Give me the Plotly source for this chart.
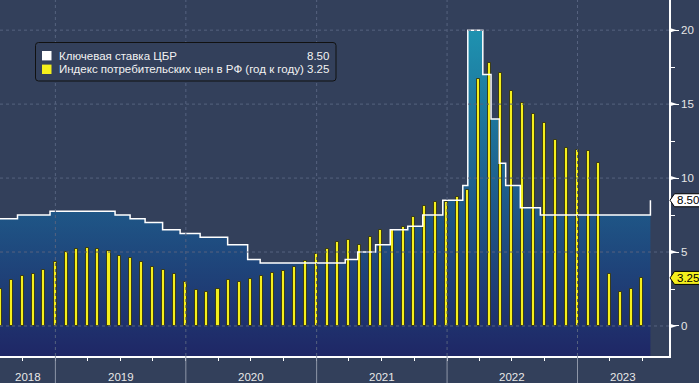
import plotly.graph_objects as go
import pandas as pd

# ---------------- data ----------------
rate_dates = ['2018-07-27', '2018-09-17', '2018-12-17', '2019-06-17', '2019-07-29',
              '2019-09-09', '2019-10-28', '2019-12-16', '2020-02-10', '2020-04-27',
              '2020-06-22', '2020-07-27', '2021-03-22', '2021-04-26', '2021-06-15',
              '2021-07-26', '2021-09-13', '2021-10-25', '2021-12-20', '2022-02-14',
              '2022-02-28', '2022-04-11', '2022-05-04', '2022-05-27', '2022-06-14',
              '2022-07-25', '2022-09-19', '2023-07-21', '2023-07-24']
rate_values = [7.25, 7.50, 7.75, 7.50, 7.25,
               7.00, 6.50, 6.25, 6.00, 5.50,
               4.50, 4.25, 4.50, 5.00, 5.50,
               6.50, 6.75, 7.50, 8.50, 9.50,
               20.0, 17.0, 14.0, 11.0, 9.50,
               8.00, 7.50, 7.50, 8.50]

cpi_first_month = '2018-07-01'
cpi_values = [2.5, 3.1, 3.4, 3.5, 3.8, 4.3,
              5.0, 5.2, 5.3, 5.2, 5.1, 4.7, 4.6, 4.3, 4.0, 3.8, 3.5, 3.0,
              2.4, 2.3, 2.5, 3.1, 3.0, 3.2, 3.4, 3.6, 3.7, 4.0, 4.4, 4.9,
              5.2, 5.7, 5.8, 5.5, 6.0, 6.5, 6.5, 6.7, 7.4, 8.1, 8.4, 8.4,
              8.7, 9.2, 16.7, 17.8, 17.1, 15.9, 15.1, 14.3, 13.7, 12.6, 12.0, 11.9,
              11.8, 11.0, 3.5, 2.3, 2.5, 3.25]

series_names = ['Ключевая ставка ЦБР', 'Индекс потребительских цен в РФ (год к году)']
last_labels = ['8.50', '3.25']
y_ticks = [0, 5, 10, 15, 20]
y_minor_ticks = [2.5, 7.5, 12.5, 17.5]
years = [2018, 2019, 2020, 2021, 2022, 2023]

# ---------------- style ----------------
W, H = 699, 383
ML, MR, MT, MB = 0, 30, 0, 27
PW, PH = W - ML - MR, H - MT - MB
X0, X1 = pd.Timestamp('2018-07-30'), pd.Timestamp('2023-09-14')
Y0, Y1 = -2.03, 22.04
BG = '#33405b'
GRID = '#56627f'
YELLOW = '#f4ef1c'
FONT = 'Liberation Sans'

def px_x(px):
    return px / PW

def px_y(py):
    return 1 - py / PH

cpi_dates = pd.date_range(cpi_first_month, periods=len(cpi_values), freq='MS') + pd.offsets.MonthEnd(0)

fig = go.Figure()
# baseline for the filled area (bottom of plot)
fig.add_trace(go.Scatter(x=[rate_dates[0], rate_dates[-1]], y=[Y0, Y0], mode='lines',
                         line=dict(width=0), hoverinfo='skip', showlegend=False))
fig.add_trace(go.Scatter(x=rate_dates, y=rate_values, mode='lines', line=dict(width=0, shape='hv'),
                         fill='tonexty',
                         fillgradient=dict(type='vertical', start=-2, stop=20,
                                           colorscale=[[0, '#1f2766'], [1, '#1e92b0']]),
                         hoverinfo='skip', showlegend=False))
fig.add_trace(go.Bar(x=cpi_dates, y=cpi_values, xaxis='x2', yaxis='y2',
                     width=8.5 * 86400000,
                     marker=dict(color=YELLOW, line=dict(color='rgba(45,45,15,0.85)', width=1)),
                     name=series_names[1], showlegend=False))
fig.add_trace(go.Scatter(x=rate_dates, y=rate_values, xaxis='x2', yaxis='y2', mode='lines',
                         line=dict(color='white', width=1.5, shape='hv'),
                         name=series_names[0], showlegend=False))

shapes = []
# horizontal grid
for v in y_ticks:
    shapes.append(dict(type='line', xref='paper', yref='y', x0=0, x1=1, y0=v, y1=v,
                       line=dict(color=GRID, width=1, dash='3px,3px'), layer='above'))
# vertical grid + separators below axis
for yr in years[1:]:
    d = pd.Timestamp(f'{yr}-01-01')
    shapes.append(dict(type='line', xref='x', yref='paper', x0=d, x1=d, y0=0, y1=1,
                       line=dict(color=GRID, width=1, dash='3px,3px'), layer='above'))
    shapes.append(dict(type='line', xref='x', yref='paper', x0=d, x1=d, y0=0, y1=px_y(H),
                       line=dict(color='#8e96a8', width=1), layer='above'))
# triangle major ticks
for v in y_ticks:
    shapes.append(dict(type='path', xref='paper', xsizemode='pixel', xanchor=1,
                       yref='y', ysizemode='pixel', yanchor=v,
                       path='M 0,-2.5 L 8,0 L 0,2.5 Z', fillcolor='white',
                       line=dict(width=0), layer='above'))
# value tags
tag_cols = ['white', YELLOW]
last_vals = [rate_values[-1], cpi_values[-1]]
for v, c in zip(last_vals, tag_cols):
    shapes.append(dict(type='path', xref='paper', xsizemode='pixel', xanchor=1,
                       yref='y', ysizemode='pixel', yanchor=v,
                       path='M 1,0 L 5.5,-6.5 L 40,-6.5 L 40,6.5 L 5.5,6.5 Z', fillcolor=c,
                       line=dict(color='black', width=1), layer='above'))
# legend box
lx0, lx1, ly0, ly1, r = 35.5, 336, 42.5, 81, 3
path = (f'M {px_x(lx0 + r)},{px_y(ly0)} L {px_x(lx1 - r)},{px_y(ly0)} '
        f'Q {px_x(lx1)},{px_y(ly0)} {px_x(lx1)},{px_y(ly0 + r)} '
        f'L {px_x(lx1)},{px_y(ly1 - r)} Q {px_x(lx1)},{px_y(ly1)} {px_x(lx1 - r)},{px_y(ly1)} '
        f'L {px_x(lx0 + r)},{px_y(ly1)} Q {px_x(lx0)},{px_y(ly1)} {px_x(lx0)},{px_y(ly1 - r)} '
        f'L {px_x(lx0)},{px_y(ly0 + r)} Q {px_x(lx0)},{px_y(ly0)} {px_x(lx0 + r)},{px_y(ly0)} Z')
shapes.append(dict(type='path', xref='paper', yref='paper', path=path, fillcolor=BG,
                   line=dict(color='#111111', width=1), layer='above'))
sq_cols = ['white', YELLOW]
row_y = [55.7, 69.3]
for c, ry in zip(sq_cols, row_y):
    shapes.append(dict(type='rect', xref='paper', yref='paper',
                       x0=px_x(42), x1=px_x(51.5), y0=px_y(ry - 4.7), y1=px_y(ry + 4.7),
                       fillcolor=c, line=dict(width=0), layer='above'))

annotations = []
for name, val, ry in zip(series_names, last_labels, row_y):
    annotations.append(dict(xref='paper', yref='paper', x=px_x(56.5), y=px_y(ry), xanchor='left',
                            yanchor='middle', text=name, showarrow=False,
                            font=dict(family=FONT, size=11.5, color='#f2f2f2')))
    annotations.append(dict(xref='paper', yref='paper', x=px_x(331), y=px_y(ry), xanchor='right',
                            yanchor='middle', text=val, showarrow=False,
                            font=dict(family=FONT, size=11.5, color='#f2f2f2')))
for v, lab in zip(last_vals, last_labels):
    annotations.append(dict(xref='paper', yref='y', x=px_x(PW + 6), y=v, xanchor='left',
                            yanchor='middle', text=lab, showarrow=False,
                            font=dict(family=FONT, size=11.5, color='black')))
for yr in years:
    s = max(pd.Timestamp(f'{yr}-01-01'), X0)
    e = min(pd.Timestamp(f'{yr + 1}-01-01'), X1)
    annotations.append(dict(xref='x', yref='paper', x=s + (e - s) / 2, y=px_y(376.5),
                            xanchor='center', yanchor='middle', text=str(yr), showarrow=False,
                            font=dict(family=FONT, size=11.5, color='#e8e8e8')))

fig.update_layout(
    width=W, height=H, autosize=False,
    margin=dict(l=ML, r=MR, t=MT, b=MB, pad=0),
    paper_bgcolor=BG, plot_bgcolor=BG,
    showlegend=False, bargap=0,
    xaxis=dict(type='date', range=[X0, X1], showgrid=False, zeroline=False,
               showline=True, linecolor='white', linewidth=1.5,
               ticks='outside', dtick='M3', tick0='2018-01-01', ticklen=3, tickcolor='white',
               showticklabels=False, fixedrange=True),
    yaxis=dict(range=[Y0, Y1], side='right', showgrid=False, zeroline=False,
               showline=True, linecolor='white', linewidth=1.5,
               tickmode='array', tickvals=y_ticks, ticks='outside', ticklen=8,
               tickcolor='white', tickwidth=1,
               tickfont=dict(family=FONT, size=11.5, color='#e6e6e6'),
               minor=dict(tickmode='array', tickvals=y_minor_ticks, ticks='outside',
                          ticklen=4, tickcolor='white', showgrid=False),
               fixedrange=True),
    xaxis2=dict(type='date', range=[X0, X1], overlaying='x', visible=False, fixedrange=True),
    yaxis2=dict(range=[Y0, Y1], overlaying='y', visible=False, fixedrange=True),
    shapes=shapes, annotations=annotations,
)

fig.write_html('out.html', config={'displayModeBar': False},
               post_script="document.body.style.margin='0';document.body.style.padding='0';document.body.style.overflow='hidden';")
